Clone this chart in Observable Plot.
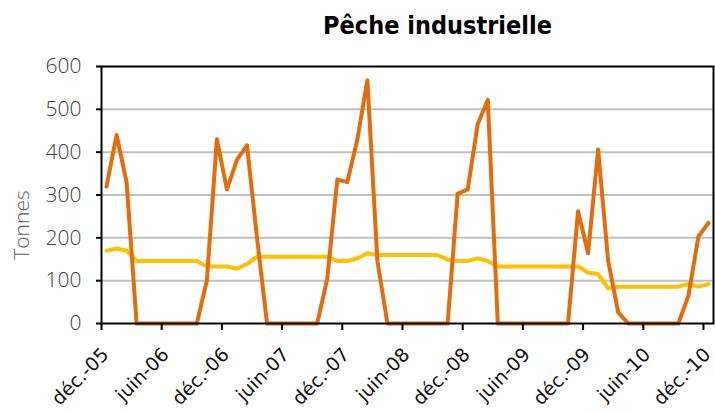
<!DOCTYPE html>
<html>
<head>
<meta charset="utf-8">
<script src="https://cdn.jsdelivr.net/npm/d3@7"></script>
<script src="https://cdn.jsdelivr.net/npm/@observablehq/plot@0.6"></script>
<style>
  body { margin: 0; background: #fff; }
  #wrap { width: 715px; height: 412px; position: relative; overflow: hidden; }
  #title { height: 44px; line-height: 44px; padding-top: 4px; padding-left: 160px; text-align: center;
    font-family: "DejaVu Sans Condensed", "DejaVu Sans", sans-serif; font-weight: bold; font-size: 25px; color: #000; }
  g[aria-label="y-axis tick label"] text { font-weight: 300; }
</style>
</head>
<body>
<div id="wrap">
  <div id="title">Pêche industrielle</div>
  <div id="chart"></div>
</div>
<script>
// Monthly categories: déc-05 .. déc-10 (61 months)
const monthStart = new Date(Date.UTC(2005, 11, 1));
const months = d3.utcMonths(monthStart, new Date(Date.UTC(2011, 0, 1)));

// Orange series (tonnes)
const seriesOrange = [
  320, 440, 330, 0, 0, 0, 0, 0, 0, 0, 100, 430, 313, 382, 416, 200, 0, 0, 0, 0, 0, 0,
  104, 336, 330, 429, 568, 146, 0, 0, 0, 0, 0, 0, 0, 303, 313, 466, 522, 0, 0, 0, 0, 0,
  0, 0, 0, 262, 164, 406, 146, 26, 0, 0, 0, 0, 0, 0, 65, 203, 235
];
// Yellow series (tonnes)
const seriesYellow = [
  170, 175, 170, 146, 146, 146, 146, 146, 146, 146, 133, 133, 133, 128, 139, 156, 156, 156, 156, 156, 156, 156,
  156, 146, 146, 152, 164, 160, 160, 160, 160, 160, 160, 160, 149, 146, 146, 152, 146, 133, 133, 133, 133, 133,
  133, 133, 133, 133, 119, 115, 82, 86, 86, 86, 86, 86, 86, 86, 92, 86, 92
];

const tickLabels = ["déc.-05", "juin-06", "déc.-06", "juin-07", "déc.-07", "juin-08",
  "déc.-08", "juin-09", "déc.-09", "juin-10", "déc.-10"];
const tickMonthIndex = [0, 6, 12, 18, 24, 30, 36, 42, 48, 54, 60];
const yTicks = [0, 100, 200, 300, 400, 500, 600];
const gridTicks = [100, 200, 300, 400, 500];

const data = months.map((m, i) => ({ i, month: m, orange: seriesOrange[i], yellow: seriesYellow[i] }));
const xTicks = tickMonthIndex.map((m, k) => ({ pos: m - 0.5, label: tickLabels[k] }));

const chart = Plot.plot({
  width: 715,
  height: 364,
  marginTop: 18,
  marginBottom: 89,
  marginLeft: 101,
  marginRight: 2,
  style: { fontFamily: "'Open Sans', 'DejaVu Sans', sans-serif", background: "#fff", overflow: "visible" },
  x: { type: "linear", domain: [-0.5, months.length - 0.5] },
  y: { domain: [0, 600] },
  marks: [
    Plot.gridY(gridTicks, { stroke: "#c0c0c0", strokeOpacity: 1, strokeWidth: 2 }),
    Plot.line(data, { x: "i", y: "yellow", stroke: "#FFC000", strokeWidth: 4 }),
    Plot.line(data, { x: "i", y: "orange", stroke: "#E46C0A", strokeWidth: 4 }),
    Plot.frame({ stroke: "#000", strokeWidth: 2 }),
    Plot.axisY({
      ticks: yTicks, tickSize: 5, tickPadding: 15, fontSize: 21,
      fill: "#404040", stroke: "#000", strokeWidth: 2, label: null
    }),
    Plot.axisX({
      ticks: xTicks.map(d => d.pos), tickFormat: () => "",
      tickSize: 7, stroke: "#000", strokeWidth: 2, label: null
    }),
    Plot.text(xTicks, {
      x: "pos", text: "label", frameAnchor: "bottom", rotate: -45,
      textAnchor: "end", lineAnchor: "middle", dx: 4, dy: 28,
      fontSize: 19, fontFamily: "'DejaVu Sans', sans-serif", fill: "#111"
    }),
    Plot.text(["Tonnes"], {
      frameAnchor: "left", rotate: -90, dx: -79, dy: 30, fontSize: 21,
      fill: "#595959", textAnchor: "middle", lineAnchor: "middle", fontWeight: 300
    })
  ]
});
document.getElementById("chart").appendChild(chart);
</script>
</body>
</html>
